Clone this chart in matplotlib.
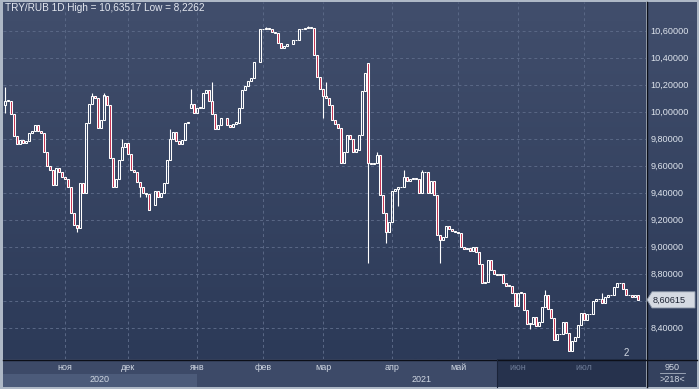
import numpy as np
import matplotlib
matplotlib.use('Agg')
import matplotlib.pyplot as plt
from matplotlib.patches import Rectangle, Polygon
from matplotlib.lines import Line2D
from matplotlib.colors import LinearSegmentedColormap
from matplotlib import transforms

nan = float('nan')

# daily closes, nan = no bar that day
closes = [
    10.08, 10.08, 9.98, 9.82, 9.76, 9.79, 9.77, 9.78, 9.84, 9.86,
    9.90, 9.86, 9.84, 9.70, 9.60, 9.57, 9.46, 9.58, 9.55, 9.52,
    9.50, 9.44, 9.25, 9.16, 9.14, 9.47, 9.40, 9.92, 10.06, 10.12,
    10.10, 9.88, 9.94, 10.12, 10.05, 9.66, 9.44, 9.50, 9.64, 9.74,
    9.77, 9.69, 9.57, 9.55, 9.48, 9.44, 9.40, 9.39, 9.27, nan,
    9.41, 9.37, 9.40, 9.47, 9.64, 9.80, 9.85, 9.78, 9.76, 9.79,
    9.92, 9.92, 10.06, 9.99, 10.03, 10.03, 10.14, 10.16, 10.08, 9.98,
    9.87, 9.90, 9.95, nan, 9.90, 9.89, 9.91, 9.92, 10.03, 10.16,
    10.19, 10.23, 10.25, 10.37, nan, 10.61, 10.61, 10.62, 10.61, 10.59,
    10.58, 10.51, 10.47, 10.49, 10.50, nan, 10.53, 10.53, 10.61, 10.61,
    10.62, 10.62, 10.62, 10.42, 10.26, 10.17, 10.12, 10.10, 10.05, 9.94,
    9.91, 9.88, 9.62, 9.70, 9.83, 9.80, 9.70, 9.72, 9.83, 10.15,
    10.29, 9.62, 9.61, 9.62, 9.68, 9.38, 9.25, 9.11, 9.18, 9.41,
    9.43, 9.44, 9.44, 9.52, 9.49, 9.50, 9.51, 9.50, 9.40, 9.55,
    9.55, 9.40, 9.49, 9.38, 9.09, 9.05, 9.07, 9.15, 9.13, 9.12,
    9.11, 9.10, 9.00, 8.98, 8.99, 8.97, 9.00, 8.96, 8.87, 8.73,
    8.74, 8.90, 8.83, 8.80, 8.79, 8.80, 8.73, 8.71, 8.71, 8.66,
    8.56, 8.66, 8.66, 8.53, 8.43, 8.43, 8.48, 8.41, 8.44, 8.55,
    8.64, 8.54, 8.47, 8.31, 8.35, 8.35, 8.44, 8.36, 8.23, 8.30,
    8.33, 8.42, 8.51, 8.46, 8.50, 8.50, 8.60, 8.61, 8.61, 8.58,
    8.63, 8.64, 8.64, 8.70, 8.73, 8.73, 8.69, 8.64, 8.64, 8.63,
    8.64, 8.60615,
]
first_open = 10.05
open_gaps = {50: 9.31, 62: 10.03, 121: 10.36}
high_wicks = {0: 10.18, 29: 10.14, 33: 10.14, 39: 9.80, 55: 9.87, 62: 10.17,
              69: 10.22, 87: 10.63, 101: 10.63517, 107: 10.22, 124: 9.70,
              133: 9.57, 139: 9.57, 180: 8.68, 199: 8.66}
low_wicks = {0: 9.99, 24: 9.11, 45: 9.37, 47: 9.37, 106: 9.95, 121: 8.88,
             127: 9.03, 131: 9.30, 145: 8.88, 175: 8.39, 188: 8.2262}

months = ['ноя', 'дек', 'янв', 'фев', 'мар', 'апр', 'май', 'июн', 'июл']
month_bar = [20, 41, 64, 86, 106, 129, 151, 171, 193]
years = ['2020', '2021']
price_ticks = [8.4, 8.6, 8.8, 9.0, 9.2, 9.4, 9.6, 9.8, 10.0, 10.2, 10.4, 10.6]

W, H = 699, 389
RED = '#c4304f'
GRID = '#5a6886'
FONT = 'Liberation Sans'

def fx(x):
    return x / W

def fy(y):
    return 1 - y / H

def grad(ax, top, bottom):
    cm = LinearSegmentedColormap.from_list('g', [top, bottom])
    ax.imshow(np.linspace(0, 1, 200).reshape(-1, 1), cmap=cm, aspect='auto',
              extent=[0, 1, 0, 1], transform=ax.transAxes, zorder=0)

fig = plt.figure(figsize=(W / 100, H / 100), dpi=100, facecolor='#aeb8c6')

side = fig.add_axes([fx(647), fy(359), fx(50), (359 - 2) / H])
grad(side, '#414e6c', '#2c3a58')
side.set_axis_off()

ax = fig.add_axes([fx(3), fy(359), fx(643), (359 - 2) / H])
ax.set_zorder(2)
grad(ax, '#414e6c', '#2c3a58')

opens = []
prev = first_open
for i, c in enumerate(closes):
    opens.append(open_gaps.get(i, prev))
    if not np.isnan(c):
        prev = c

for i, c in enumerate(closes):
    if np.isnan(c):
        continue
    o = opens[i]
    top, bot = max(o, c), min(o, c)
    hi = high_wicks.get(i, top)
    lo = low_wicks.get(i, bot)
    if hi > top:
        ax.vlines(i, top, hi, color='white', lw=0.8, zorder=3)
    if lo < bot:
        ax.vlines(i, lo, bot, color='white', lw=0.8, zorder=3)
    ax.add_patch(Rectangle((i - 0.36, bot), 0.72, max(top - bot, 0.004),
                           facecolor=RED if c < o else 'none',
                           edgecolor='white', lw=0.75, zorder=4))

ax.set_xlim((3 - 5) / 3, (646 - 5) / 3)
ax.set_ylim(10.6 - (359 - 30.7) / 135, 10.6 + (30.7 - 2) / 135)
for b in month_bar:
    ax.axvline(b, color=GRID, lw=0.7, ls=(0, (3, 3)), zorder=1)
ax.yaxis.tick_right()
ax.set_yticks(price_ticks)
ax.set_yticklabels(['' if abs(v - 8.6) < 1e-9 else f'{v:.5f}'.replace('.', ',')
                    for v in price_ticks], family=FONT)
ax.tick_params(axis='y', length=0, pad=3, labelcolor='#dde3ec', labelsize=6.6)
ax.set_xticks([])
ax.grid(axis='y', color=GRID, lw=0.7, ls=(0, (3, 3)))
for s in ax.spines.values():
    s.set_visible(False)

valid_hi = max(high_wicks.values())
valid_lo = min(low_wicks.values())
fig.text(fx(5), fy(8), f'TRY/RUB 1D High = {str(valid_hi).replace(".", ",")} '
         f'Low = {str(valid_lo).replace(".", ",")}',
         color='#e4e8f0', fontsize=7.2, va='center', family=FONT)

# bottom time axis
fig.add_artist(Rectangle((fx(3), fy(387)), fx(494), 28 / H, transform=fig.transFigure,
                         facecolor='#3d4a68', edgecolor='none'))
xdisp = transforms.blended_transform_factory(ax.transData, fig.transFigure)
x_left, x_right = ax.get_xlim()
fig.add_artist(Rectangle((x_left, fy(387)), month_bar[2] - x_left, 13 / H,
                         transform=xdisp, facecolor='#4c5b7a', edgecolor='none'))
fig.add_artist(Rectangle((fx(497), fy(387)), fx(149), 28 / H, transform=fig.transFigure,
                         facecolor='#26324d', edgecolor='none'))
fig.add_artist(Rectangle((fx(647), fy(387)), fx(50), 28 / H, transform=fig.transFigure,
                         facecolor='#34415e', edgecolor='none'))
for name, b in zip(months, month_bar):
    dim = b > (497 - 5) / 3
    fig.text(b, fy(367), name, transform=xdisp, ha='center', va='center',
             fontsize=6.5, color='#6f7d98' if dim else '#d0d7e2', family=FONT)
fig.text((x_left + month_bar[2]) / 2, fy(380), years[0], transform=xdisp, ha='center',
         va='center', fontsize=6.5, color='#d0d7e2', family=FONT)
fig.text((month_bar[2] + x_right) / 2, fy(380), years[1], transform=xdisp, ha='center',
         va='center', fontsize=6.5, color='#d0d7e2', family=FONT)

fig.text(fx(672), fy(367), '950', ha='center', va='center', fontsize=6.5, color='#d0d7e2',
         family=FONT)
fig.add_artist(Line2D([fx(660), fx(685)], [fy(373), fy(373)], color='#a8b2c2', lw=0.6))
fig.text(fx(672), fy(380), '>218<', ha='center', va='center', fontsize=6.5, color='#d0d7e2',
         family=FONT)

fig.text(fx(626), fy(353), '2', ha='center', va='center', fontsize=7, color='#d0d7e2',
         family=FONT)
fig.add_artist(Polygon([(fx(630), fy(357)), (fx(638), fy(357)), (fx(634), fy(352))],
                       transform=fig.transFigure, facecolor='#56647f', edgecolor='none'))

# separators
fig.add_artist(Line2D([fx(646.5), fx(646.5)], [fy(2), fy(387)], color='#0c0f18', lw=1))
fig.add_artist(Line2D([fx(3), fx(697)], [fy(359.5), fy(359.5)], color='#0c0f18', lw=1))
fig.add_artist(Line2D([fx(497), fx(497)], [fy(360), fy(387)], color='#1a2338', lw=0.8))

# last price box
last = closes[-1]
ydisp = transforms.blended_transform_factory(fig.transFigure, ax.transData)
fig.add_artist(Polygon([(fx(647), last), (fx(652), last + 0.06), (fx(695), last + 0.06),
                        (fx(695), last - 0.06), (fx(652), last - 0.06)],
                       transform=ydisp, facecolor='#d5dae2', edgecolor='#8c97a8', lw=0.6,
                       zorder=5))
fig.text(fx(653), last, f'{last:.5f}'.replace('.', ','), transform=ydisp, va='center',
         fontsize=6.6, color='#1c2333', family=FONT, zorder=6)

fig.savefig('out.png', dpi=100, facecolor=fig.get_facecolor())
